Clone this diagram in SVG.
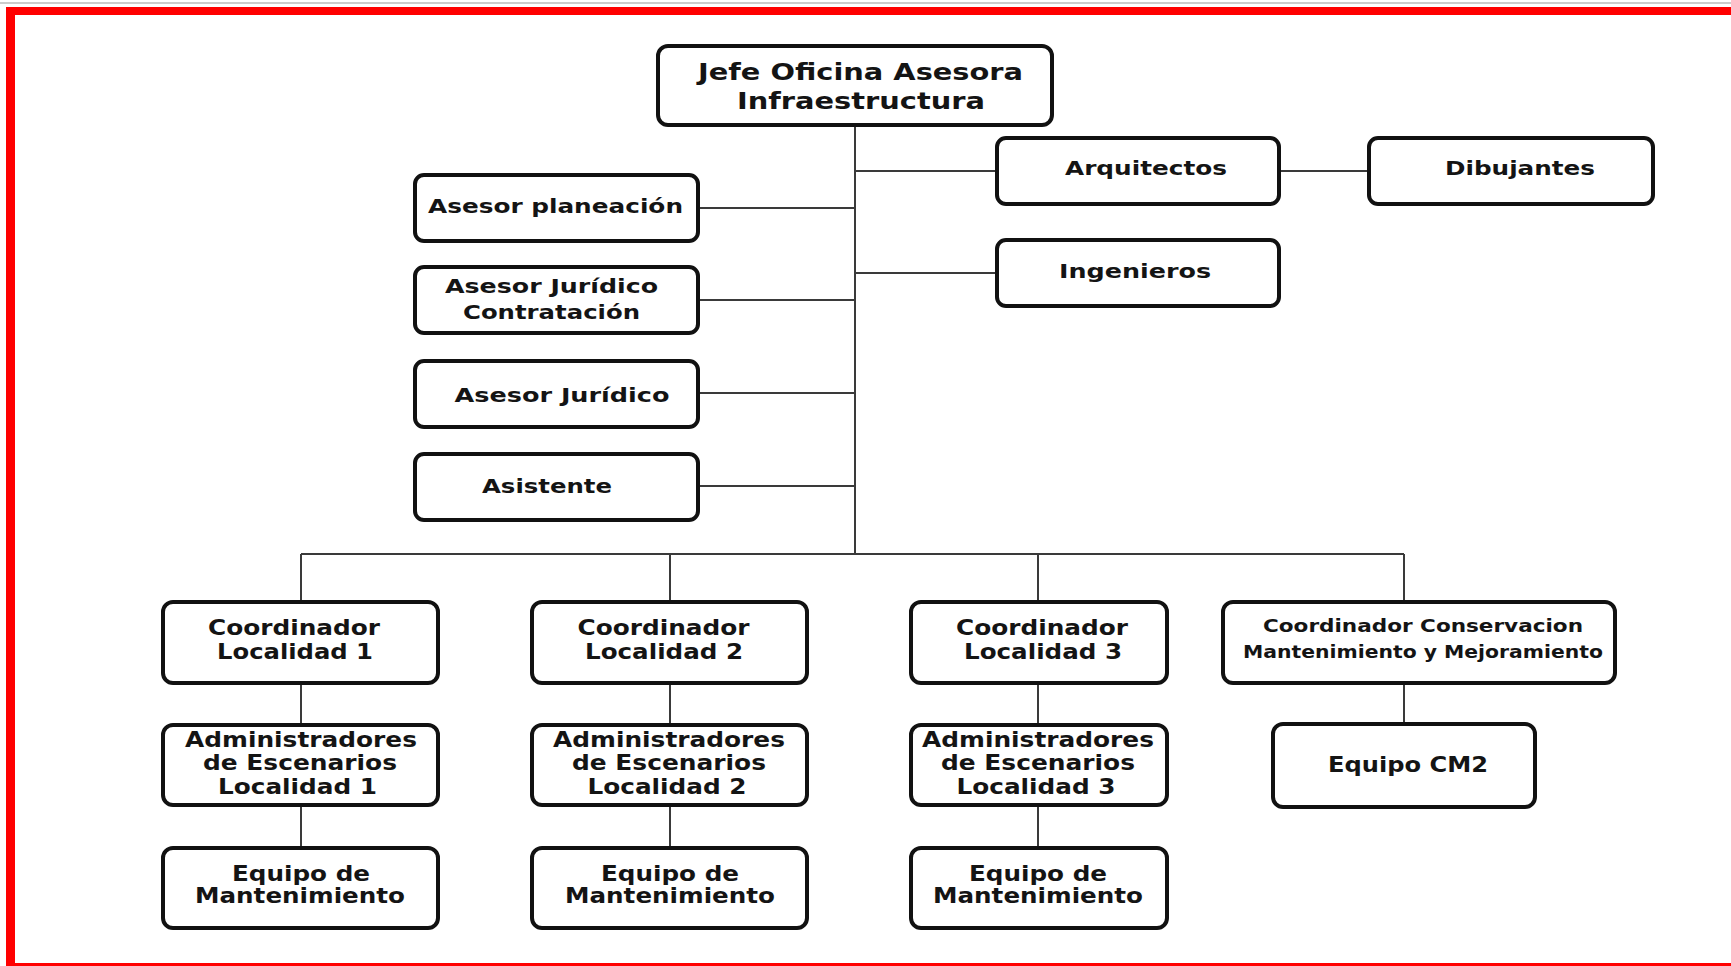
<svg xmlns="http://www.w3.org/2000/svg" width="1731" height="966" viewBox="0 0 1731 966">
<style>
.box{fill:#ffffff;stroke:#111111;stroke-width:4;}
.t{font-family:"DejaVu Sans",Verdana,sans-serif;font-weight:bold;fill:#141414;text-anchor:middle;}
.f22{font-size:23px;}
.f20{font-size:21px;}
.f19{font-size:20px;}
.f17{font-size:17.5px;}
.f21{font-size:22px;}
.con{stroke:#3a3a3a;stroke-width:2;fill:none;}
</style>
<rect x="0" y="0" width="1731" height="966" fill="#ffffff"/>
<line x1="0" y1="3" x2="1731" y2="3" stroke="#cccccc" stroke-width="2"/>
<g id="frame" fill="#ff0000">
<rect x="6" y="7" width="1725" height="8"/>
<rect x="6" y="7" width="9" height="959"/>
<rect x="6" y="963" width="1725" height="3"/>
</g>
<g id="connectors" class="con">
<line x1="855" y1="125" x2="855" y2="554"/>
<line x1="855" y1="171" x2="997" y2="171"/>
<line x1="1279" y1="171" x2="1369" y2="171"/>
<line x1="855" y1="273" x2="997" y2="273"/>
<line x1="698" y1="208" x2="855" y2="208"/>
<line x1="698" y1="300" x2="855" y2="300"/>
<line x1="698" y1="393" x2="855" y2="393"/>
<line x1="698" y1="486" x2="855" y2="486"/>
<line x1="301" y1="554" x2="1404" y2="554"/>
<line x1="301" y1="554" x2="301" y2="602"/>
<line x1="670" y1="554" x2="670" y2="602"/>
<line x1="1038" y1="554" x2="1038" y2="602"/>
<line x1="1404" y1="554" x2="1404" y2="602"/>
<line x1="301" y1="683" x2="301" y2="725"/>
<line x1="301" y1="805" x2="301" y2="848"/>
<line x1="670" y1="683" x2="670" y2="725"/>
<line x1="670" y1="805" x2="670" y2="848"/>
<line x1="1038" y1="683" x2="1038" y2="725"/>
<line x1="1038" y1="805" x2="1038" y2="848"/>
<line x1="1404" y1="683" x2="1404" y2="724"/>
</g>
<g id="jefe">
<rect class="box" x="658" y="46" width="394" height="79" rx="10"/>
<text class="t f22" x="860.5" y="80" textLength="325" lengthAdjust="spacingAndGlyphs">Jefe Oficina Asesora</text>
<text class="t f22" x="861" y="109" textLength="248" lengthAdjust="spacingAndGlyphs">Infraestructura</text>
</g>
<g id="arquitectos">
<rect class="box" x="997" y="138" width="282" height="66" rx="9"/>
<text class="t f19" x="1146" y="175" textLength="162" lengthAdjust="spacingAndGlyphs">Arquitectos</text>
</g>
<g id="dibujantes">
<rect class="box" x="1369" y="138" width="284" height="66" rx="9"/>
<text class="t f19" x="1520" y="175" textLength="150" lengthAdjust="spacingAndGlyphs">Dibujantes</text>
</g>
<g id="ingenieros">
<rect class="box" x="997" y="240" width="282" height="66" rx="9"/>
<text class="t f19" x="1135" y="278" textLength="152" lengthAdjust="spacingAndGlyphs">Ingenieros</text>
</g>
<g id="asesor-planeacion">
<rect class="box" x="415" y="175" width="283" height="66" rx="9"/>
<text class="t f19" x="555.5" y="213" textLength="255" lengthAdjust="spacingAndGlyphs">Asesor planeación</text>
</g>
<g id="asesor-juridico-contratacion">
<rect class="box" x="415" y="267" width="283" height="66" rx="9"/>
<text class="t f19" x="551.5" y="293" textLength="213" lengthAdjust="spacingAndGlyphs">Asesor Jurídico</text>
<text class="t f19" x="551.5" y="319" textLength="177" lengthAdjust="spacingAndGlyphs">Contratación</text>
</g>
<g id="asesor-juridico">
<rect class="box" x="415" y="361" width="283" height="66" rx="9"/>
<text class="t f19" x="562" y="402" textLength="215" lengthAdjust="spacingAndGlyphs">Asesor Jurídico</text>
</g>
<g id="asistente">
<rect class="box" x="415" y="454" width="283" height="66" rx="9"/>
<text class="t f19" x="547" y="493" textLength="130" lengthAdjust="spacingAndGlyphs">Asistente</text>
</g>
<g id="coord-1">
<rect class="box" x="163" y="602" width="275" height="81" rx="10"/>
<text class="t f20" x="294" y="635" textLength="172" lengthAdjust="spacingAndGlyphs">Coordinador</text>
<text class="t f20" x="295" y="659" textLength="156" lengthAdjust="spacingAndGlyphs">Localidad 1</text>
</g>
<g id="admin-1">
<rect class="box" x="163" y="725" width="275" height="80" rx="10"/>
<text class="t f20" x="301" y="747" textLength="232" lengthAdjust="spacingAndGlyphs">Administradores</text>
<text class="t f20" x="300" y="770" textLength="194" lengthAdjust="spacingAndGlyphs">de Escenarios</text>
<text class="t f20" x="297.5" y="794" textLength="159" lengthAdjust="spacingAndGlyphs">Localidad 1</text>
</g>
<g id="equipo-1">
<rect class="box" x="163" y="848" width="275" height="80" rx="10"/>
<text class="t f20" x="301" y="881" textLength="138" lengthAdjust="spacingAndGlyphs">Equipo de</text>
<text class="t f20" x="300" y="903" textLength="210" lengthAdjust="spacingAndGlyphs">Mantenimiento</text>
</g>
<g id="coord-2">
<rect class="box" x="532" y="602" width="275" height="81" rx="10"/>
<text class="t f20" x="663.5" y="635" textLength="172" lengthAdjust="spacingAndGlyphs">Coordinador</text>
<text class="t f20" x="664" y="659" textLength="158" lengthAdjust="spacingAndGlyphs">Localidad 2</text>
</g>
<g id="admin-2">
<rect class="box" x="532" y="725" width="275" height="80" rx="10"/>
<text class="t f20" x="669" y="747" textLength="232" lengthAdjust="spacingAndGlyphs">Administradores</text>
<text class="t f20" x="669" y="770" textLength="194" lengthAdjust="spacingAndGlyphs">de Escenarios</text>
<text class="t f20" x="667" y="794" textLength="159" lengthAdjust="spacingAndGlyphs">Localidad 2</text>
</g>
<g id="equipo-2">
<rect class="box" x="532" y="848" width="275" height="80" rx="10"/>
<text class="t f20" x="670" y="881" textLength="138" lengthAdjust="spacingAndGlyphs">Equipo de</text>
<text class="t f20" x="670" y="903" textLength="210" lengthAdjust="spacingAndGlyphs">Mantenimiento</text>
</g>
<g id="coord-3">
<rect class="box" x="911" y="602" width="256" height="81" rx="10"/>
<text class="t f20" x="1042" y="635" textLength="172" lengthAdjust="spacingAndGlyphs">Coordinador</text>
<text class="t f20" x="1043" y="659" textLength="158" lengthAdjust="spacingAndGlyphs">Localidad 3</text>
</g>
<g id="admin-3">
<rect class="box" x="911" y="725" width="256" height="80" rx="10"/>
<text class="t f20" x="1038" y="747" textLength="232" lengthAdjust="spacingAndGlyphs">Administradores</text>
<text class="t f20" x="1038" y="770" textLength="194" lengthAdjust="spacingAndGlyphs">de Escenarios</text>
<text class="t f20" x="1036" y="794" textLength="159" lengthAdjust="spacingAndGlyphs">Localidad 3</text>
</g>
<g id="equipo-3">
<rect class="box" x="911" y="848" width="256" height="80" rx="10"/>
<text class="t f20" x="1038" y="881" textLength="138" lengthAdjust="spacingAndGlyphs">Equipo de</text>
<text class="t f20" x="1038" y="903" textLength="210" lengthAdjust="spacingAndGlyphs">Mantenimiento</text>
</g>
<g id="coord-conservacion">
<rect class="box" x="1223" y="602" width="392" height="81" rx="10"/>
<text class="t f17" x="1423" y="632" textLength="320" lengthAdjust="spacingAndGlyphs">Coordinador Conservacion</text>
<text class="t f17" x="1423" y="658" textLength="360" lengthAdjust="spacingAndGlyphs">Mantenimiento y Mejoramiento</text>
</g>
<g id="equipo-cm2">
<rect class="box" x="1273" y="724" width="262" height="83" rx="10"/>
<text class="t f21" x="1408" y="772" textLength="160" lengthAdjust="spacingAndGlyphs">Equipo CM2</text>
</g>
</svg>
